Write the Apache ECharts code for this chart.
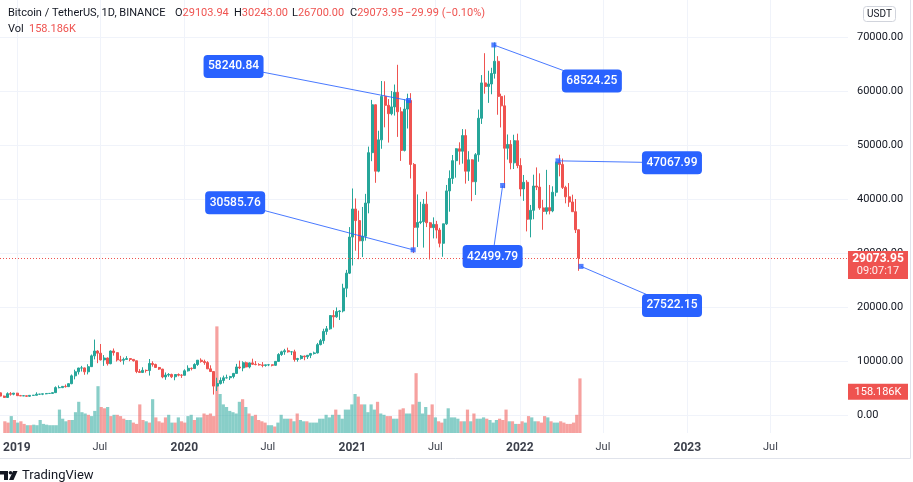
<!DOCTYPE html>
<html>
<head>
<meta charset="utf-8">
<title>Bitcoin / TetherUS, 1D, BINANCE</title>
<script src="https://cdn.jsdelivr.net/npm/echarts@6/dist/echarts.min.js"></script>
<style>
  html, body { margin: 0; padding: 0; background: #fff; }
  #chart { width: 913px; height: 482px; }
</style>
</head>
<body>
<div id="chart"></div>
<script>
// weekly candles, first week starts on this Monday
const weekStart = '2018-12-03';

const opens = [
  4100, 3500, 3250, 3950, 3850,
  4050, 3580, 3540, 3560, 3470, 3640, 3650, 3850, 3860, 3920, 3990, 4000, 4140, 5070, 5070, 5300, 5250, 5800, 7250, 8000, 8700, 8720, 8000, 8950, 10950, 11850, 11450, 10200, 10550, 9500, 11850, 11550, 10200, 10140, 10300, 10450, 10300, 10040, 8050, 7880, 8270, 8230, 9550, 9360, 8800, 8500, 7050, 7400, 7510, 7080, 7500, 7380,
  7350, 8180, 8650, 8600, 9350, 10150, 9900, 9700, 8550, 8050, 5350, 5820, 6400, 6880, 6900, 7120, 7700, 8890, 8720, 9680, 8900, 9650, 9390, 9340, 9280, 9180, 9290, 9300, 9200, 9930, 11200, 11700, 11900, 11700, 11700, 10280, 10450, 10920, 10780, 11060, 11380, 11500, 13030, 13770, 15480, 15960, 18410, 18180, 19150, 19270, 23480, 26270,
  32950, 38150, 36000, 32250, 33100, 39250, 48580, 57450, 45150, 50950, 59000, 57350, 55800, 57060, 59750, 56150, 49000, 56650, 58250, 46400, 34750, 35650, 35800, 39050, 35600, 34700, 35300, 34250, 31800, 35400, 41500, 43800, 47100, 49300, 48850, 51750, 45150, 47250, 43200, 48200, 54950, 61500, 60850, 61300, 63250, 65500, 59000, 57250, 49400, 50100, 46700, 50800,
  46200, 41850, 43100, 36250, 37900, 42400, 42200, 38350, 37700, 38400, 37800, 41250, 46800, 46400, 42150, 40400, 39450, 37650, 34300
];
const highs = [
  4150, 3600, 4200, 4240, 4100,
  4100, 3720, 3650, 3580, 3700, 3720, 4200, 3900, 3940, 4000, 4060, 4150, 5300, 5470, 5350, 5650, 5830, 7500, 8400, 8750, 9100, 8800, 9400, 11200, 13970, 12000, 13150, 11100, 10650, 11950, 12320, 11600, 10950, 10640, 10900, 10470, 10350, 10050, 8500, 8840, 8410, 10370, 9950, 9500, 8900, 8550, 7870, 7750, 7650, 7530, 7700, 7550,
  8460, 9200, 8800, 9580, 10160, 10500, 10250, 9970, 9200, 8100, 6900, 6970, 7300, 7470, 7250, 7790, 9470, 10070, 9950, 9900, 9740, 10430, 9990, 9590, 9800, 9300, 9450, 9340, 10000, 11450, 11900, 12250, 12470, 11830, 12090, 10580, 11100, 10990, 11100, 11500, 11730, 13350, 14100, 15970, 16480, 18480, 19420, 19920, 19420, 24300, 26870, 34800,
  41950, 40100, 37850, 38530, 40950, 49700, 58350, 57500, 52640, 61850, 61800, 58500, 60000, 61200, 64850, 57000, 58460, 59500, 59600, 46650, 40850, 39480, 40000, 41350, 35750, 36600, 35950, 34650, 35420, 42600, 45300, 48150, 49400, 50500, 52950, 52900, 48850, 47350, 48500, 56560, 62950, 67000, 63750, 64300, 69000, 66450, 59500, 59200, 51950, 50900, 51900, 52100,
  47550, 44450, 43500, 38900, 44500, 45850, 44750, 39850, 45400, 42600, 42350, 46900, 48200, 47500, 42450, 42950, 40800, 40000, 34350
];
const lows = [
  3480, 3200, 3240, 3580, 3650,
  3550, 3520, 3510, 3360, 3370, 3580, 3640, 3700, 3680, 3840, 3900, 3930, 4100, 4940, 4980, 5080, 5200, 5700, 6600, 7500, 8050, 7450, 7520, 8900, 10300, 9600, 10100, 9100, 9150, 9400, 11000, 9900, 9800, 9330, 10200, 9950, 9900, 7750, 7800, 7770, 7850, 7300, 8960, 8700, 8350, 6800, 6520, 7080, 6840, 6430, 7150, 6870,
  7350, 8050, 8260, 8550, 9100, 9700, 9300, 8500, 8000, 3780, 4440, 5650, 5860, 6750, 6480, 6780, 7680, 8500, 8100, 8800, 8640, 9270, 9200, 9150, 8830, 8950, 9050, 9000, 9120, 9920, 10950, 11150, 11550, 11100, 9880, 9880, 10260, 10140, 10370, 10530, 11200, 11400, 12900, 13200, 14850, 15800, 16200, 18000, 17600, 19000, 21820, 26100,
  27680, 30420, 28850, 29250, 32300, 37350, 47000, 43000, 44950, 49300, 53270, 50450, 55500, 55450, 51500, 47050, 48800, 53050, 43800, 30000, 31100, 35350, 31000, 34800, 28800, 32700, 32700, 31050, 29300, 35200, 37650, 42800, 43950, 46350, 46550, 42850, 43350, 39600, 40750, 46900, 53900, 59500, 57800, 59400, 62300, 55600, 53250, 42000, 47300, 45500, 45550, 45700,
  40500, 39650, 34000, 32900, 36250, 41650, 38000, 34300, 37150, 37150, 37550, 40500, 44200, 41850, 39200, 38550, 37600, 33700, 26700
];
const closes = [
  3500, 3250, 3950, 3850, 4050,
  3580, 3540, 3560, 3470, 3640, 3650, 3850, 3860, 3920, 3990, 4000, 4140, 5070, 5070, 5300, 5250, 5800, 7250, 8000, 8700, 8720, 8000, 8950, 10950, 11850, 11450, 10200, 10550, 9500, 11850, 11550, 10200, 10140, 10300, 10450, 10300, 10040, 8050, 7880, 8270, 8230, 9550, 9360, 8800, 8500, 7050, 7400, 7510, 7080, 7500, 7380, 7350,
  8180, 8650, 8600, 9350, 10150, 9900, 9700, 8550, 8050, 5350, 5820, 6400, 6880, 6900, 7120, 7700, 8890, 8720, 9680, 8900, 9650, 9390, 9340, 9280, 9180, 9290, 9300, 9200, 9930, 11200, 11700, 11900, 11700, 11700, 10280, 10450, 10920, 10780, 11060, 11380, 11500, 13030, 13770, 15480, 15960, 18410, 18180, 19150, 19270, 23480, 26270, 32950,
  38150, 36000, 32250, 33100, 39250, 48580, 57450, 45150, 50950, 59000, 57350, 55800, 57060, 59750, 56150, 49000, 56650, 58250, 46400, 34750, 35650, 35800, 39050, 35600, 34700, 35300, 34250, 31800, 35400, 41500, 43800, 47100, 49300, 48850, 51750, 45150, 47250, 43200, 48200, 54950, 61500, 60850, 61300, 63250, 65500, 59000, 57250, 49400, 50100, 46700, 50800, 46200,
  41850, 43100, 36250, 37900, 42400, 42200, 38350, 37700, 38400, 37800, 41250, 46800, 46400, 42150, 40400, 39450, 37650, 34300, 29073.95
];
// daily volume in thousand BTC (height of the tallest bar of that week)
const volumes = [
  45, 40, 65, 50, 40,
  45, 35, 30, 30, 32, 30, 50, 35, 32, 30, 30, 30, 90, 55, 45, 50, 50, 80, 120, 80, 75, 70, 65, 85, 180, 100, 95, 100, 65, 70, 70, 65, 55, 50, 50, 40, 35, 110, 50, 45, 40, 130, 60, 45, 40, 60, 70, 40, 40, 60, 45, 40,
  65, 70, 50, 60, 60, 75, 70, 75, 65, 410, 150, 110, 100, 85, 80, 75, 120, 130, 100, 75, 65, 70, 50, 45, 40, 30, 30, 25, 40, 70, 55, 55, 55, 45, 75, 50, 45, 45, 40, 40, 40, 55, 55, 70, 60, 70, 90, 70, 55, 90, 90, 110,
  150, 140, 110, 110, 80, 110, 90, 120, 75, 70, 65, 65, 55, 55, 90, 95, 75, 75, 110, 230, 120, 75, 100, 70, 110, 60, 45, 40, 55, 95, 60, 60, 55, 45, 45, 90, 45, 75, 55, 55, 60, 55, 50, 40, 50, 55, 50, 90, 45, 45, 35, 35,
  45, 40, 65, 60, 45, 45, 40, 65, 60, 45, 40, 40, 45, 40, 35, 35, 40, 70, 210
];

const tickDates = ['2019-01-01', '2019-07-01', '2020-01-01', '2020-07-01', '2021-01-01', '2021-07-01', '2022-01-01', '2022-07-01', '2023-01-01', '2023-07-01'];
const priceTicks = [0, 10000, 20000, 30000, 40000, 50000, 60000, 70000];

// annotated points
const noteDates = ['2021-05-08', '2021-05-18', '2021-11-09', '2021-11-28', '2022-03-28', '2022-05-17'];
const noteValues = [58240.84, 30585.76, 68524.25, 42499.79, 47067.99, 27522.15];

// last bar shown in the header
const quote = ['29103.94', '30243.00', '26700.00', '29073.95'];
const quoteChange = '\u221229.99 (\u22120.10%)';
const lastVolume = 158.186;
const countdown = '09:07:17';

const up = '#26a69a';
const down = '#ef5350';
const blue = '#2962ff';
const textColor = '#131722';
const gridColor = '#f0f3fa';
const font = 'Roboto, "Noto Sans", sans-serif';

const DAY = 86400000;
const t0 = Date.parse(weekStart);
const weekTime = i => t0 + (i * 7 + 3) * DAY;
const candleData = closes.map((c, i) => [weekTime(i), opens[i], c, lows[i], highs[i]]);
const volumeData = volumes.map((v, i) => [weekTime(i), v]);
const tickStamps = tickDates.map(d => Date.parse(d));
const xMin = Date.parse('2018-12-04');
const xMax = Date.parse('2023-12-17');

const chart = echarts.init(document.getElementById('chart'));

const option = {
  animation: false,
  textStyle: { fontFamily: font },
  grid: [
    { left: 0, right: 65, top: 37, bottom: 67 },
    { left: 0, right: 65, top: 0, bottom: 49 }
  ],
  xAxis: [
    { type: 'value', gridIndex: 0, min: xMin, max: xMax, show: false },
    {
      type: 'value', gridIndex: 1, min: xMin, max: xMax,
      axisLine: { show: false },
      axisTick: { show: false, customValues: tickStamps },
      axisLabel: {
        customValues: tickStamps,
        margin: 9,
        formatter: function (v) {
          const d = new Date(v);
          return d.getUTCMonth() === 0 ? '{y|' + d.getUTCFullYear() + '}' : '{m|Jul}';
        },
        rich: {
          y: { fontSize: 12, fontWeight: 'bold', color: '#3b3f4a', fontFamily: font },
          m: { fontSize: 11, color: '#3b3f4a', fontFamily: font }
        }
      },
      splitLine: { show: true, lineStyle: { color: gridColor, width: 1 } }
    }
  ],
  yAxis: [
    {
      type: 'value', gridIndex: 0, position: 'right',
      min: priceTicks[0], max: priceTicks[priceTicks.length - 1], interval: 10000,
      axisLine: { show: false },
      axisTick: { show: false },
      axisLabel: { color: textColor, fontSize: 11, margin: 9, formatter: v => v.toFixed(2) },
      splitLine: { lineStyle: { color: gridColor, width: 1 } }
    },
    { type: 'value', gridIndex: 1, min: 0, max: 1665, show: false, splitLine: { show: false } }
  ],
  series: [
    {
      name: 'Vol',
      type: 'bar',
      xAxisIndex: 1,
      yAxisIndex: 1,
      barWidth: 3.2,
      data: volumeData,
      itemStyle: {
        color: p => closes[p.dataIndex] >= opens[p.dataIndex] ? 'rgba(38,166,154,0.55)' : 'rgba(239,83,80,0.55)'
      }
    },
    {
      name: 'BTCUSDT',
      type: 'candlestick',
      xAxisIndex: 0,
      yAxisIndex: 0,
      barWidth: 2.5,
      data: candleData,
      itemStyle: { color: up, color0: down, borderColor: up, borderColor0: down, borderWidth: 1 },
      markLine: {
        silent: true,
        symbol: 'none',
        label: { show: false },
        lineStyle: { color: down, type: [1, 2], width: 1 },
        data: [{ yAxis: closes[closes.length - 1] }]
      }
    },
    {
      name: 'notes',
      type: 'scatter',
      xAxisIndex: 0,
      yAxisIndex: 0,
      symbol: 'rect',
      symbolSize: 5,
      z: 20,
      itemStyle: { color: blue },
      data: noteDates.map((d, i) => [Date.parse(d), noteValues[i]])
    }
  ]
};

chart.setOption(option);

function overlays() {
  const g = [];
  // label box offsets from the point, px
  const offsets = [[-175, -34], [-178, -47], [98, 36], [-10, 71], [114, 2], [91, 39]];

  noteDates.forEach((d, i) => {
    const p = chart.convertToPixel({ xAxisIndex: 0, yAxisIndex: 0 }, [Date.parse(d), noteValues[i]]);
    const cx = p[0] + offsets[i][0];
    const cy = p[1] + offsets[i][1];
    g.push({
      type: 'line', z: 30, silent: true,
      shape: { x1: p[0], y1: p[1], x2: cx, y2: cy },
      style: { stroke: blue, lineWidth: 1, opacity: 0.85 }
    });
    g.push({
      type: 'rect', z: 31, silent: true,
      shape: { x: cx - 30, y: cy - 11.5, width: 60, height: 23, r: 4 },
      style: { fill: blue }
    });
    g.push({
      type: 'text', z: 32, silent: true,
      style: { text: noteValues[i].toFixed(2), x: cx, y: cy, align: 'center', verticalAlign: 'middle', fill: '#fff', font: '500 12px ' + font }
    });
  });

  // last price tag
  const py = chart.convertToPixel({ yAxisIndex: 0 }, closes[closes.length - 1]);
  g.push({ type: 'rect', z: 40, shape: { x: 848, y: py - 7, width: 60, height: 28 }, style: { fill: down } });
  g.push({ type: 'text', z: 41, style: { text: quote[3], x: 878, y: py + 1, align: 'center', verticalAlign: 'middle', fill: '#fff', font: 'bold 12px ' + font } });
  g.push({ type: 'text', z: 41, style: { text: countdown, x: 878, y: py + 13.5, align: 'center', verticalAlign: 'middle', fill: '#fff', font: '11px ' + font, opacity: 0.9 } });

  // volume tag
  const vy = chart.convertToPixel({ yAxisIndex: 1 }, lastVolume);
  g.push({ type: 'rect', z: 40, shape: { x: 848, y: vy - 8, width: 60, height: 16 }, style: { fill: down } });
  g.push({ type: 'text', z: 41, style: { text: lastVolume.toFixed(3) + 'K', x: 878, y: vy, align: 'center', verticalAlign: 'middle', fill: '#fff', font: '11px ' + font } });

  // header
  g.push({ type: 'text', z: 50, style: { text: 'Bitcoin / TetherUS, 1D, BINANCE', x: 8, y: 13, verticalAlign: 'middle', fill: textColor, font: '11px ' + font } });
  const keys = ['O', 'H', 'L', 'C'];
  const keyX = [175, 234, 292, 350];
  keys.forEach((k, i) => {
    g.push({
      type: 'text', z: 50,
      style: {
        text: '{k|' + k + '}{v|' + quote[i] + '}', x: keyX[i], y: 13, verticalAlign: 'middle',
        rich: { k: { fill: textColor, font: '11px ' + font }, v: { fill: down, font: '11px ' + font } }
      }
    });
  });
  g.push({ type: 'text', z: 50, style: { text: quoteChange, x: 405, y: 13, verticalAlign: 'middle', fill: down, font: '11px ' + font } });
  g.push({ type: 'text', z: 50, style: { text: 'Vol', x: 8, y: 29, verticalAlign: 'middle', fill: textColor, font: '11px ' + font } });
  g.push({ type: 'text', z: 50, style: { text: lastVolume.toFixed(3) + 'K', x: 29, y: 29, verticalAlign: 'middle', fill: down, font: '11px ' + font } });

  // currency badge
  g.push({ type: 'rect', z: 50, shape: { x: 863.5, y: 6.5, width: 32, height: 15, r: 3 }, style: { fill: '#fff', stroke: '#d1d4dc', lineWidth: 1 } });
  g.push({ type: 'text', z: 51, style: { text: 'USDT', x: 879.5, y: 14, align: 'center', verticalAlign: 'middle', fill: textColor, font: '10px ' + font } });

  // panel borders
  g.push({ type: 'line', z: 50, shape: { x1: 0, y1: 458.5, x2: 910.5, y2: 458.5 }, style: { stroke: '#e0e3eb', lineWidth: 1 } });
  g.push({ type: 'line', z: 50, shape: { x1: 910.5, y1: 0, x2: 910.5, y2: 458.5 }, style: { stroke: '#e0e3eb', lineWidth: 1 } });

  // TradingView mark
  g.push({ type: 'polygon', z: 50, shape: { points: [[0, 471], [8, 471], [8, 480], [4, 480], [4, 474.5], [0, 474.5]] }, style: { fill: textColor } });
  g.push({ type: 'circle', z: 50, shape: { cx: 10.5, cy: 472.8, r: 1.8 }, style: { fill: textColor } });
  g.push({ type: 'polygon', z: 50, shape: { points: [[13, 471], [17.5, 471], [13.5, 480], [9, 480]] }, style: { fill: textColor } });
  g.push({ type: 'text', z: 50, style: { text: 'TradingView', x: 22, y: 475.5, verticalAlign: 'middle', fill: textColor, font: '13px ' + font } });

  chart.setOption({ graphic: g });
}

overlays();
</script>
</body>
</html>
